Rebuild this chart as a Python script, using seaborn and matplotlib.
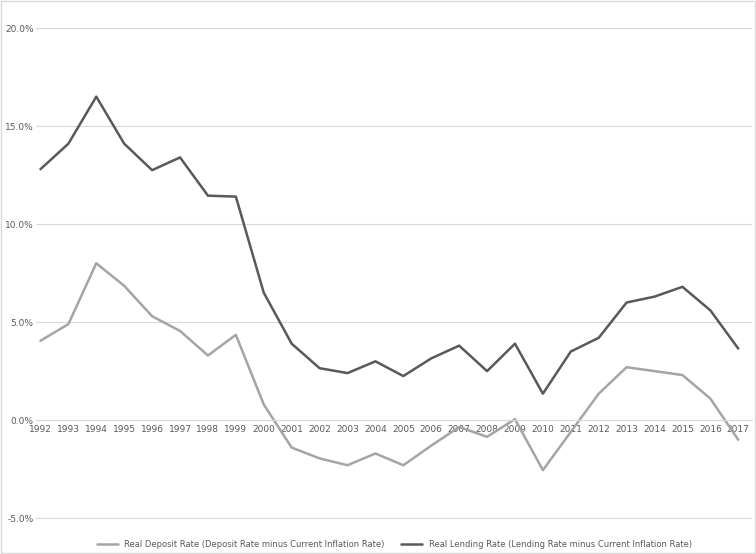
import matplotlib
matplotlib.use("Agg")
import matplotlib.pyplot as plt
import seaborn as sns
import pandas as pd
from matplotlib.ticker import FuncFormatter

years = list(range(1992, 2018))
deposit = [4.05, 4.9, 8.0, 6.85, 5.3, 4.55, 3.3, 4.35, 0.8, -1.4, -1.95, -2.3, -1.7, -2.3, -1.3, -0.35, -0.85, 0.05, -2.55, -0.6, 1.35, 2.7, 2.5, 2.3, 1.1, -1.0]
lending = [12.8, 14.1, 16.5, 14.1, 12.75, 13.4, 11.45, 11.4, 6.5, 3.9, 2.65, 2.4, 3.0, 2.25, 3.15, 3.8, 2.5, 3.9, 1.35, 3.5, 4.2, 6.0, 6.3, 6.8, 5.6, 3.65]
dep_name = "Real Deposit Rate (Deposit Rate minus Current Inflation Rate)"
len_name = "Real Lending Rate (Lending Rate minus Current Inflation Rate)"

df = pd.DataFrame({"year": years * 2, "value": deposit + lending,
                   "series": [dep_name] * len(years) + [len_name] * len(years)})

sns.set_style("white")
plt.rcParams['font.family'] = ['DejaVu Sans']
fig = plt.figure(figsize=(7.56, 5.54), dpi=100)
ax = fig.add_axes([0.048, 0.025, 0.947, 0.957])
sns.lineplot(data=df, x="year", y="value", hue="series",
             palette={dep_name: "#a5a5a5", len_name: "#595959"}, linewidth=1.8, ax=ax)
ax.set_ylim(-6.12, 20.92)
ax.set_xlim(1991.85, 2017.5)
ax.set_yticks([-5, 0, 5, 10, 15, 20])
ax.yaxis.set_major_formatter(FuncFormatter(lambda v, p: f"{v:.1f}%"))
ax.grid(axis="y", color="#d9d9d9", linewidth=0.8)
ax.set_xticks(years)
ax.set_xticklabels([str(y) for y in years])
ax.tick_params(axis="both", labelsize=6.5, colors="#595959", length=0)
ax.tick_params(axis="y", pad=2)
for s in ax.spines.values():
    s.set_visible(False)
ax.spines["bottom"].set_visible(True)
ax.spines["bottom"].set_position(("data", 0))
ax.spines["bottom"].set_color("#d9d9d9")
ax.set_xlabel("")
ax.set_ylabel("")
ax.legend(loc="lower center", bbox_to_anchor=(0.5, -0.03), ncol=2, frameon=False,
          fontsize=6, handlelength=2.5, labelcolor="#595959")
fig.patches.append(plt.Rectangle((0.001, 0.001), 0.998, 0.998, transform=fig.transFigure,
                                 fill=False, edgecolor="#d9d9d9", linewidth=1))
fig.savefig("out.png", dpi=100)
